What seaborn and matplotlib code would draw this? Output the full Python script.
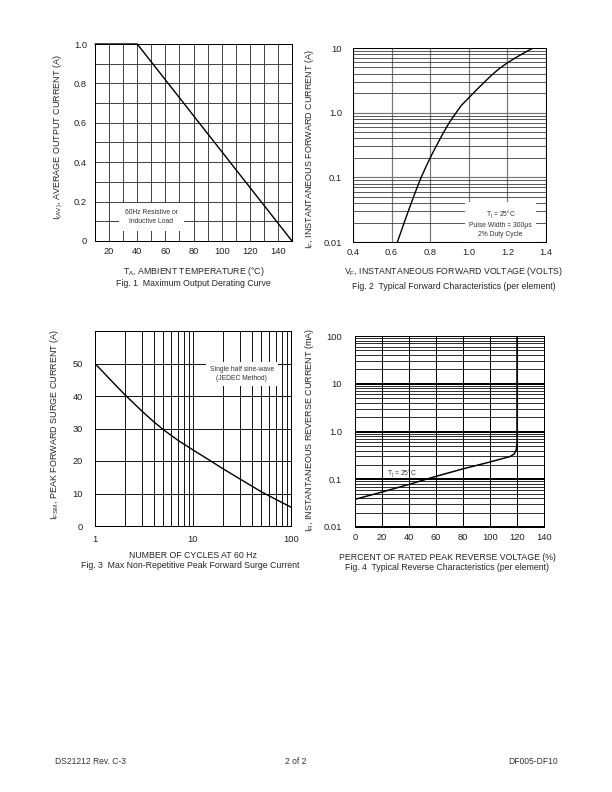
import matplotlib
matplotlib.use("Agg")
import matplotlib.pyplot as plt
import matplotlib.ticker as mticker
import seaborn as sns

# Fig. 1 - maximum output derating curve
ambient_temp = [10, 40, 150]
avg_current = [1.0, 1.0, 0.0]

# Fig. 2 - typical forward characteristics
fwd_voltage = [0.63, 0.66, 0.69, 0.72, 0.75, 0.78, 0.81, 0.84, 0.87, 0.90, 0.93,
               0.96, 1.00, 1.04, 1.08, 1.12, 1.16, 1.20, 1.24, 1.28, 1.33]
fwd_current = [0.01, 0.018, 0.032, 0.056, 0.095, 0.15, 0.23, 0.34, 0.50, 0.71, 0.96,
               1.28, 1.7, 2.25, 2.95, 3.85, 4.85, 5.9, 7.0, 8.2, 9.9]

# Fig. 3 - max non-repetitive peak forward surge current
cycles = [1, 1.5, 2, 3, 4, 5, 7, 10, 15, 20, 30, 50, 70, 100]
surge_current = [50, 44.4, 40.5, 35.4, 32.0, 29.6, 26.4, 23.4, 20.1, 17.7, 14.5, 10.5, 8.2, 5.8]

# Fig. 4 - typical reverse characteristics
pct_voltage = [0, 20, 40, 60, 80, 100, 115, 118, 119.5, 120, 120]
rev_current = [0.038, 0.054, 0.078, 0.115, 0.165, 0.23, 0.30, 0.34, 0.42, 0.6, 100]

sns.set_style("white")
plt.rcParams['font.family'] = ['Liberation Sans', 'DejaVu Sans']
plt.rcParams['mathtext.fontset'] = 'custom'
plt.rcParams['mathtext.rm'] = 'Liberation Sans'

W, H = 612, 792
fig = plt.figure(figsize=(8.5, 11), dpi=72)


def px_axes(left, top, right, bottom):
    return fig.add_axes([left / W, 1 - bottom / H, (right - left) / W, (bottom - top) / H])


def px_text(x, y, s, **kw):
    fig.text(x / W, 1 - y / H, s, **kw)


def style(ax, xpad, ypad):
    for sp in ax.spines.values():
        sp.set_color('black')
        sp.set_linewidth(1.0)
    ax.tick_params(axis='both', which='both', length=0, labelsize=9.2, colors='#222222')
    ax.tick_params(axis='x', pad=xpad)
    ax.tick_params(axis='y', pad=ypad)
    ax.set_xlabel('')
    ax.set_ylabel('')


LBL = 8.7
YLBL = 9.0
NOTE = 6.8
box = dict(boxstyle='square,pad=0.6', fc='white', ec='none')

# ---- Fig. 1 ----
ax1 = px_axes(95, 44, 292, 241)
sns.lineplot(x=ambient_temp, y=avg_current, ax=ax1, color='black', lw=1.4, clip_on=False)
ax1.set_xlim(10, 150)
ax1.set_ylim(0, 1.0)
ax1.set_xticks(range(20, 141, 20))
ax1.xaxis.set_minor_locator(mticker.MultipleLocator(10))
ax1.set_yticks([0, 0.2, 0.4, 0.6, 0.8, 1.0])
ax1.set_yticklabels(['0', '0.2', '0.4', '0.6', '0.8', '1.0'])
ax1.yaxis.set_minor_locator(mticker.MultipleLocator(0.1))
ax1.grid(which='both', color='#333333', lw=0.9)
ax1.set_axisbelow(True)
style(ax1, 6, 8)
ax1.text(50, 0.122, '60Hz Resistive or\nInductive Load', ha='center', va='center',
         fontsize=NOTE, color='#333333', bbox=dict(boxstyle='square,pad=0.9', fc='white', ec='none'),
         zorder=3, linespacing=1.3)
px_text(194, 271, r'T$_\mathregular{A}$, AMBIENT TEMPERATURE (°C)', ha='center', va='center', fontsize=LBL)
px_text(193, 284, 'Fig. 1  Maximum Output Derating Curve', ha='center', va='center', fontsize=LBL)
px_text(58, 137, r'I$_\mathregular{(AV)}$, AVERAGE OUTPUT CURRENT (A)', ha='center', va='center',
        rotation=90, fontsize=YLBL)

# ---- Fig. 2 ----
ax2 = px_axes(353, 48, 546, 242)
sns.lineplot(x=fwd_voltage, y=fwd_current, ax=ax2, color='black', lw=1.4)
ax2.set_yscale('log')
ax2.set_xlim(0.4, 1.4)
ax2.set_ylim(0.01, 10)
ax2.set_xticks([0.4, 0.6, 0.8, 1.0, 1.2, 1.4])
ax2.set_xticklabels(['0.4', '0.6', '0.8', '1.0', '1.2', '1.4'])
ax2.set_yticks([0.01, 0.1, 1, 10])
ax2.set_yticklabels(['0.01', '0.1', '1.0', '10'])
ax2.yaxis.set_minor_locator(mticker.LogLocator(base=10, subs=range(2, 10)))
ax2.yaxis.set_minor_formatter(mticker.NullFormatter())
ax2.grid(which='major', color='#777777', lw=1.2)
ax2.grid(which='minor', axis='y', color='#333333', lw=0.8)
ax2.set_axisbelow(True)
style(ax2, 6, 11)
ax2.text(1.165, 0.0195, 'T$_\\mathregular{j}$ = 25°C\nPulse Width = 300µs\n2% Duty Cycle',
         ha='center', va='center', fontsize=NOTE, color='#333333', bbox=box, zorder=3,
         linespacing=1.4)
px_text(454, 272, r'V$_\mathregular{F}$, INSTANTANEOUS FORWARD VOLTAGE (VOLTS)', ha='center', va='center', fontsize=LBL)
px_text(454, 286, 'Fig. 2  Typical Forward Characteristics (per element)', ha='center', va='center', fontsize=LBL)
px_text(310, 149, r'I$_\mathregular{F}$, INSTANTANEOUS FORWARD CURRENT (A)', ha='center', va='center',
        rotation=90, fontsize=YLBL)

# ---- Fig. 3 ----
ax3 = px_axes(95, 331, 291, 526)
sns.lineplot(x=cycles, y=surge_current, ax=ax3, color='black', lw=1.4)
ax3.set_xscale('log')
ax3.set_xlim(1, 100)
ax3.set_ylim(0, 60)
ax3.set_xticks([1, 10, 100])
ax3.set_xticklabels(['1', '10', '100'])
ax3.xaxis.set_minor_locator(mticker.LogLocator(base=10, subs=range(2, 10)))
ax3.xaxis.set_minor_formatter(mticker.NullFormatter())
ax3.set_yticks([0, 10, 20, 30, 40, 50])
ax3.grid(which='both', color='black', lw=0.9)
ax3.set_axisbelow(True)
style(ax3, 9, 12)
ax3.text(31.5, 46.7, 'Single half sine-wave\n(JEDEC Method)', ha='center', va='center',
         fontsize=NOTE, color='#333333', bbox=box, zorder=3, linespacing=1.3)
px_text(193, 555, 'NUMBER OF CYCLES AT 60 Hz', ha='center', va='center', fontsize=LBL)
px_text(190, 566, 'Fig. 3  Max Non-Repetitive Peak Forward Surge Current', ha='center', va='center', fontsize=LBL)
px_text(55, 424, r'I$_\mathregular{FSM}$, PEAK FORWARD SURGE CURRENT (A)', ha='center', va='center',
        rotation=90, fontsize=YLBL)

# ---- Fig. 4 ----
ax4 = px_axes(355, 336, 544, 527)
sns.lineplot(x=pct_voltage, y=rev_current, ax=ax4, color='black', lw=1.5,
             estimator=None, sort=False)
ax4.set_yscale('log')
ax4.set_xlim(0, 140)
ax4.set_ylim(0.01, 100)
ax4.set_xticks(range(0, 141, 20))
ax4.set_yticks([0.01, 0.1, 1, 10, 100])
ax4.set_yticklabels(['0.01', '0.1', '1.0', '10', '100'])
ax4.yaxis.set_minor_locator(mticker.LogLocator(base=10, subs=range(2, 10)))
ax4.yaxis.set_minor_formatter(mticker.NullFormatter())
ax4.grid(which='major', axis='y', color='black', lw=2.0)
ax4.grid(which='major', axis='x', color='black', lw=1.0)
ax4.grid(which='minor', axis='y', color='black', lw=0.8)
ax4.set_axisbelow(True)
style(ax4, 6, 13)
ax4.text(35, 0.135, 'T$_\\mathregular{j}$ = 25°C', ha='center', va='center', fontsize=NOTE,
         color='#333333')
px_text(447, 557, 'PERCENT OF RATED PEAK REVERSE VOLTAGE (%)', ha='center', va='center', fontsize=LBL)
px_text(447, 568, 'Fig. 4  Typical Reverse Characteristics (per element)', ha='center', va='center', fontsize=LBL)
px_text(310, 430, r'I$_\mathregular{R}$, INSTANTANEOUS REVERSE CURRENT (mA)', ha='center', va='center',
        rotation=90, fontsize=YLBL)

# footer
px_text(55, 762, 'DS21212 Rev. C-3', ha='left', va='center', fontsize=8.5, color='#333333')
px_text(296, 762, '2 of 2', ha='center', va='center', fontsize=8.5, color='#333333')
px_text(558, 762, 'DF005-DF10', ha='right', va='center', fontsize=8.5, color='#333333')

fig.savefig('out.png', dpi=72)
